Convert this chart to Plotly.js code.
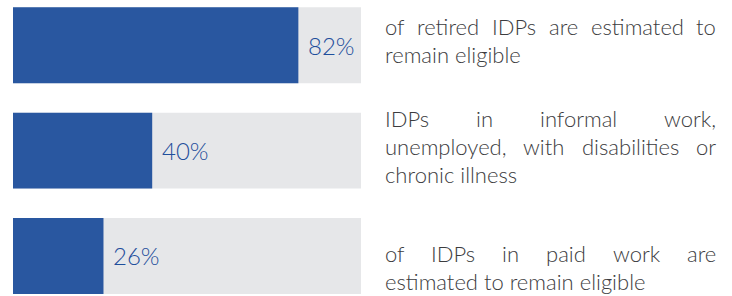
<!DOCTYPE html>
<html>
<head>
<meta charset="utf-8">
<script src="https://cdn.plot.ly/plotly-3.0.1.min.js"></script>
<style>
  html, body { margin: 0; padding: 0; background: #fff; }
  #chart { width: 732px; height: 296px; }
</style>
</head>
<body>
<div id="chart"></div>
<script>
// ---- data ----
const categories = ['retired', 'informal', 'paid'];
const values = [82, 40, 26];
const totals = [100, 100, 100];
const descriptions = [
  ['of retired IDPs are estimated to', 'remain eligible'],
  ['IDPs in informal work,', 'unemployed, with disabilities or', 'chronic illness'],
  ['of IDPs in paid work are', 'estimated to remain eligible']
];

// ---- style ----
const W = 732, H = 296;
const BLUE = '#2957a0';
const LABEL_BLUE = '#1f4f9c';
const GREY = '#e6e7e9';
const TEXT = '#3c3c3e';
const FONT = 'Lato, "Open Sans", sans-serif';
const WEIGHT = 300;
const textSize = 22;
const pctSize = 24;
const textLeft = 385, textRight = 716;
const lineH = 28;
const blockShift = [-5, -4, 12];

const ctx = document.createElement('canvas').getContext('2d');
ctx.font = WEIGHT + ' ' + textSize + 'px Lato';
const wordW = w => ctx.measureText(w).width;

const annotations = [];
// percentage labels just after the blue bars
values.forEach((v, i) => {
  annotations.push({
    x: v, y: categories[i], xref: 'x', yref: 'y',
    text: v + '%', showarrow: false, xanchor: 'left', yanchor: 'middle',
    xshift: 10, borderpad: 0, borderwidth: 0,
    font: { family: FONT, size: pctSize, color: LABEL_BLUE, weight: WEIGHT }
  });
});

// justified description text
descriptions.forEach((lines, i) => {
  const n = lines.length;
  lines.forEach((line, j) => {
    const off = blockShift[i] + (j - (n - 1) / 2) * lineH;
    const justify = j < n - 1;
    let words = line.split(' ');
    let xs;
    if (justify && words.length > 1) {
      const total = words.reduce((s, w) => s + wordW(w), 0);
      const gap = (textRight - textLeft - total) / (words.length - 1);
      xs = [];
      let x = textLeft;
      words.forEach(w => { xs.push(x); x += wordW(w) + gap; });
    } else {
      xs = [textLeft];
      words = [line];
    }
    words.forEach((w, k) => {
      annotations.push({
        x: xs[k] / W, y: categories[i], xref: 'paper', yref: 'y',
        text: w, showarrow: false, xanchor: 'left', yanchor: 'middle',
        yshift: -off, borderpad: 0, borderwidth: 0,
        font: { family: FONT, size: textSize, color: TEXT, weight: WEIGHT }
      });
    });
  });
});

const traces = [
  {
    type: 'bar', orientation: 'h', x: totals, y: categories,
    marker: { color: GREY }, width: 0.72, hoverinfo: 'skip'
  },
  {
    type: 'bar', orientation: 'h', x: values, y: categories,
    marker: { color: BLUE }, width: 0.72, hoverinfo: 'skip'
  }
];

const layout = {
  width: W, height: H,
  margin: { l: 0, r: 0, t: 0, b: 0 },
  paper_bgcolor: '#fff', plot_bgcolor: '#fff',
  barmode: 'overlay', showlegend: false,
  xaxis: {
    domain: [13 / W, 361 / W], range: [0, 100],
    visible: false, fixedrange: true
  },
  yaxis: {
    type: 'category', categoryorder: 'array', categoryarray: categories,
    range: [2.38, -0.43], visible: false, fixedrange: true
  },
  annotations: annotations
};

Plotly.newPlot('chart', traces, layout, { staticPlot: true, displayModeBar: false });
</script>
</body>
</html>
